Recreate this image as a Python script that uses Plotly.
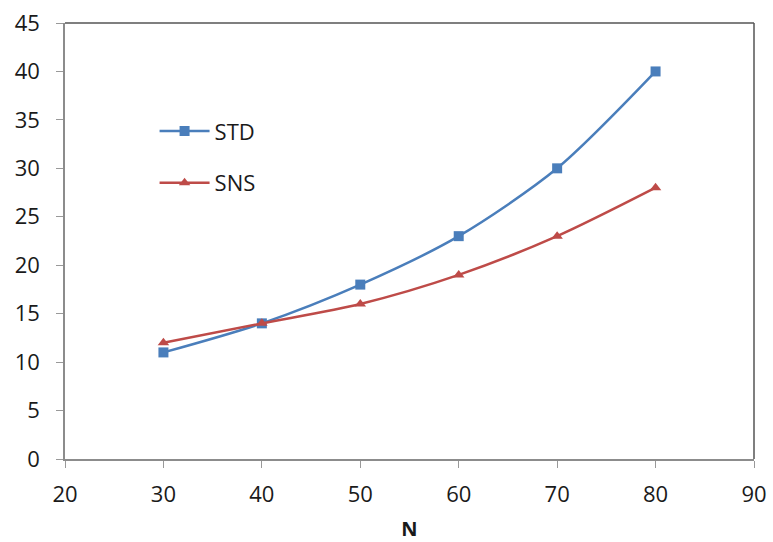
import plotly.graph_objects as go

n_values = [30, 40, 50, 60, 70, 80]
std_values = [11, 14, 18, 23, 30, 40]
sns_values = [12, 14, 16, 19, 23, 28]

x_ticks = [20, 30, 40, 50, 60, 70, 80, 90]
y_ticks = [0, 5, 10, 15, 20, 25, 30, 35, 40, 45]

font_family = "Open Sans, DejaVu Sans, sans-serif"
text_color = "#1a1a1a"

fig = go.Figure()
fig.add_trace(go.Scatter(
    x=n_values, y=std_values, name="STD", mode="lines+markers",
    line=dict(color="#4A7EBB", width=2.5, shape="spline", smoothing=0.8),
    marker=dict(symbol="square", size=10, color="#4A7EBB"),
    legend="legend", showlegend=True,
))
fig.add_trace(go.Scatter(
    x=n_values, y=sns_values, name="SNS", mode="lines+markers",
    line=dict(color="#BE4B48", width=2.5, shape="spline", smoothing=0.8),
    marker=dict(symbol="triangle-up", size=10, color="#BE4B48"),
    legend="legend2", showlegend=True,
))

axis_common = dict(
    showgrid=False, zeroline=False, ticks="outside", ticklen=7,
    tickcolor="#999999", showline=True, linecolor="#8c8c8c", linewidth=1.5,
    tickfont=dict(size=22, color=text_color, family=font_family),
    automargin=False,
)

legend_common = dict(
    xanchor="left", yanchor="middle", itemwidth=50,
    font=dict(size=22, color=text_color, family=font_family),
    bgcolor="rgba(0,0,0,0)", visible=True,
)

fig.update_layout(
    width=773, height=542,
    margin=dict(l=65, r=19, t=23, b=83),
    paper_bgcolor="white", plot_bgcolor="white",
    showlegend=True,
    xaxis=dict(range=[20, 90], tickvals=x_ticks, ticklabelstandoff=8,
               title=dict(text="<b>N</b>", font=dict(size=20, color=text_color, family=font_family), standoff=25),
               **axis_common),
    yaxis=dict(range=[0, 45], tickvals=y_ticks, ticklabelstandoff=12, **axis_common),
    legend=dict(x=0.13, y=0.752, **legend_common),
    legend2=dict(x=0.13, y=0.633, **legend_common),
    shapes=[
        dict(type="line", xref="paper", yref="paper", x0=0, x1=1, y0=1, y1=1,
             line=dict(color="#555555", width=1.5)),
        dict(type="line", xref="paper", yref="paper", x0=1, x1=1, y0=0, y1=1,
             line=dict(color="#555555", width=1.5)),
    ],
)

fig.write_html("out.html")
